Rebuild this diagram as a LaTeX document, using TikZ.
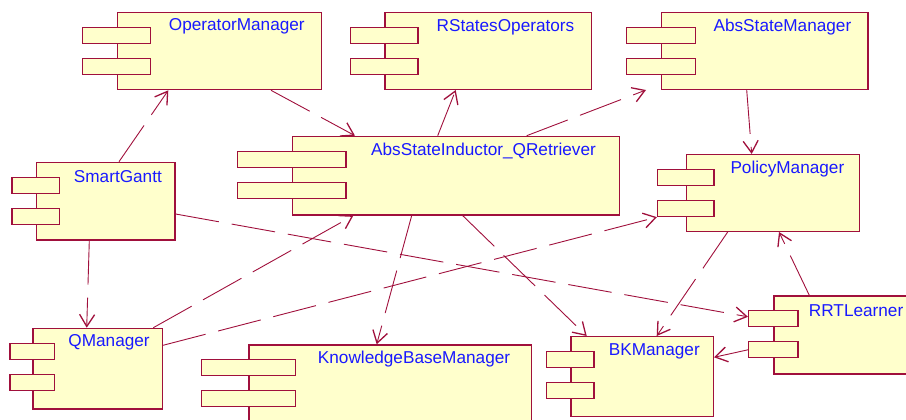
\documentclass[tikz,border=0pt]{standalone}
\usepackage{fontspec}
\setmainfont{Liberation Sans}
\usetikzlibrary{arrows.meta,calc}
\definecolor{umlred}{RGB}{160,16,60}
\definecolor{umlfill}{RGB}{255,255,204}
\definecolor{umlblue}{RGB}{25,25,255}
\tikzset{
  compbody/.style={draw=umlred, fill=umlfill, line width=1.3pt, anchor=north west, inner sep=0pt},
  comptab/.style={draw=umlred, fill=umlfill, line width=1.3pt, inner sep=0pt, minimum height=16pt},
  comptitle/.style={text=umlblue, inner sep=0pt, font=\fontsize{17.2}{20}\selectfont},
  dep/.style={draw=umlred, line width=0.9pt, dash pattern=on 44pt off 13pt,
    -{Straight Barb[length=12pt,width=15pt,line width=1.3pt]}}
}
% component: name, x, y, width, height, tab width, title
\newcommand{\umlcomp}[7]{%
  \node[compbody, minimum width=#4pt, minimum height=#5pt] (#1) at (#2,#3) {};
  \node[comptab, minimum width=#6pt] (#1-t1) at ([yshift=-23.5pt]#1.north west) {};
  \node[comptab, minimum width=#6pt] (#1-t2) at ([yshift=-54.5pt]#1.north west) {};
  \path let \p1=(#1-t1.east), \p2=(#1.north east) in
    node[comptitle] (#1-l) at ({(\x1+\x2)/2},{\y2-15pt}) {#7};
}
\begin{document}
\begin{tikzpicture}[x=1pt,y=-1pt]
  \useasboundingbox (0,0) rectangle (906,420);
  % components
  \umlcomp{opm}{116.7}{11.7}{204.3}{77.3}{68}{OperatorManager}
  \umlcomp{rso}{384.3}{12}{206.7}{76.7}{67.4}{RStatesOperators}
  \umlcomp{asm}{661}{12}{206.3}{76.7}{69.3}{AbsStateManager}
  \umlcomp{asi}{291.7}{135.7}{327.3}{78.6}{108.6}{AbsStateInductor\_QRetriever}
  \umlcomp{pm}{685.7}{154}{173.3}{76.7}{56.3}{PolicyManager}
  \umlcomp{sg}{35.7}{161.7}{138.6}{77.6}{47.7}{SmartGantt}
  \umlcomp{qm}{32.3}{327.7}{129.4}{80.6}{44.4}{QManager}
  \umlcomp{kbm}{248.3}{344.3}{282.4}{90}{94.3}{KnowledgeBaseManager}
  \umlcomp{bkm}{570.3}{336}{142.4}{80}{47.4}{BKManager}
  \umlcomp{rrt}{773.3}{295.3}{139}{78}{49.4}{RRTLearner}
  % dependencies
  \draw[dep] ([xshift=83.3pt]sg.north west) -- ([xshift=51.6pt]opm.south west);
  \draw[dep] ([xshift=154.3pt]opm.south west) -- ([xshift=63.3pt]asi.north west);
  \draw[dep] ([xshift=146pt]asi.north west) -- ([xshift=71.4pt]rso.south west);
  \draw[dep] ([xshift=235pt]asi.north west) -- ([xshift=-15pt]asm.south west);
  \draw[dep] ([xshift=85.7pt]asm.south west) -- ([xshift=66pt]pm.north west);
  \draw[dep] ([xshift=53.6pt]sg.south west) -- ([xshift=54.4pt]qm.north west);
  \draw[dep] ([xshift=121pt]qm.north west) -- ([xshift=61.6pt]asi.south west);
  \draw[dep] ([yshift=-17.6pt]qm.north east) -- (pm-t2.south west);
  \draw[dep] ([yshift=-52.3pt]sg.north east) -- ([yshift=2pt]rrt-t1.west);
  \draw[dep] ([xshift=120pt]asi.south west) -- ([xshift=128.4pt]kbm.north west);
  \draw[dep] ([xshift=171pt]asi.south west) -- ([xshift=16.4pt]bkm.north west);
  \draw[dep] ([xshift=42pt]pm.south west) -- ([xshift=86.4pt]bkm.north west);
  \draw[dep] ([xshift=36pt]rrt.north west) -- ([xshift=93.3pt]pm.south west);
  \draw[dep] (rrt-t2.west) -- ([yshift=-21.3pt]bkm.north east);
\end{tikzpicture}
\end{document}
